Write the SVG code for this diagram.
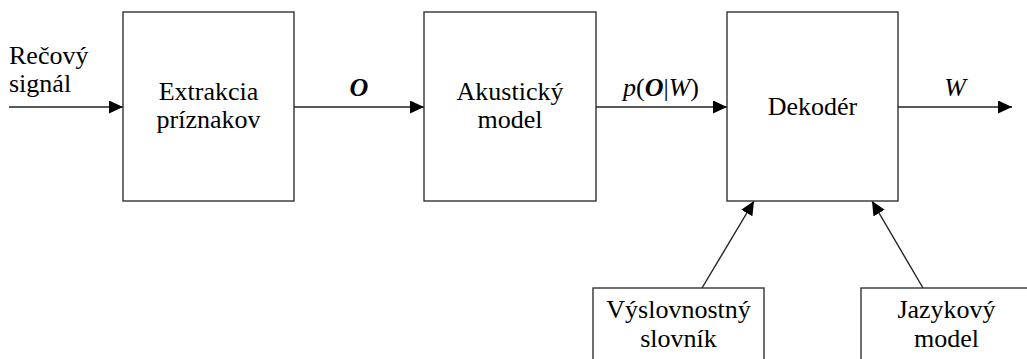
<svg xmlns="http://www.w3.org/2000/svg" width="1027" height="359" viewBox="0 0 1027 359">
<defs>
<marker id="ah" markerUnits="userSpaceOnUse" markerWidth="15" markerHeight="13" refX="14" refY="6.5" orient="auto">
<path d="M0,0 L14,6.5 L0,13 z" fill="#000"/>
</marker>
</defs>
<rect width="1027" height="359" fill="#fff"/>
<g id="connectors" stroke="#222" stroke-width="1.4" fill="none">
<line x1="9" y1="107" x2="123" y2="107" marker-end="url(#ah)"/>
<line x1="294" y1="107" x2="424" y2="107" marker-end="url(#ah)"/>
<line x1="596" y1="107" x2="727" y2="107" marker-end="url(#ah)"/>
<line x1="898" y1="107" x2="1012" y2="107" marker-end="url(#ah)"/>
<line x1="702" y1="288" x2="754" y2="201" marker-end="url(#ah)"/>
<line x1="923" y1="288" x2="872" y2="201" marker-end="url(#ah)"/>
</g>
<g id="labels">
<text x="9" y="64" font-size="26" font-family="Liberation Serif">Rečový</text>
<text x="9" y="92" font-size="26" font-family="Liberation Serif">signál</text>
<text x="359" y="96" font-size="26" font-family="Liberation Serif" text-anchor="middle" font-style="italic" font-weight="bold">O</text>
<text x="661" y="96" font-size="26" font-family="Liberation Serif" text-anchor="middle"><tspan font-style="italic">p</tspan>(<tspan font-style="italic" font-weight="bold">O</tspan>|<tspan font-style="italic">W</tspan>)</text>
<text x="955" y="96" font-size="26" font-family="Liberation Serif" text-anchor="middle" font-style="italic">W</text>
</g>
<g id="extrakcia">
<rect fill="#fff" stroke="#333" stroke-width="1.4" x="123" y="12" width="171" height="189"/>
<text x="208.5" y="100" font-size="26" font-family="Liberation Serif" text-anchor="middle">Extrakcia</text>
<text x="208.5" y="128" font-size="26" font-family="Liberation Serif" text-anchor="middle">príznakov</text>
</g>
<g id="akusticky">
<rect fill="#fff" stroke="#333" stroke-width="1.4" x="424" y="12" width="172" height="189"/>
<text x="510" y="100" font-size="26" font-family="Liberation Serif" text-anchor="middle">Akustický</text>
<text x="510" y="128" font-size="26" font-family="Liberation Serif" text-anchor="middle">model</text>
</g>
<g id="dekoder">
<rect fill="#fff" stroke="#333" stroke-width="1.4" x="727" y="12" width="171" height="189"/>
<text x="812.5" y="115" font-size="26" font-family="Liberation Serif" text-anchor="middle">Dekodér</text>
</g>
<g id="vyslovnostny">
<rect fill="#fff" stroke="#333" stroke-width="1.4" x="593" y="288" width="171" height="100"/>
<text x="678.5" y="318" font-size="26" font-family="Liberation Serif" text-anchor="middle">Výslovnostný</text>
<text x="678.5" y="347" font-size="26" font-family="Liberation Serif" text-anchor="middle">slovník</text>
</g>
<g id="jazykovy">
<rect fill="#fff" stroke="#333" stroke-width="1.4" x="861" y="288" width="171" height="100"/>
<text x="946.5" y="318" font-size="26" font-family="Liberation Serif" text-anchor="middle">Jazykový</text>
<text x="946.5" y="347" font-size="26" font-family="Liberation Serif" text-anchor="middle">model</text>
</g>
</svg>
